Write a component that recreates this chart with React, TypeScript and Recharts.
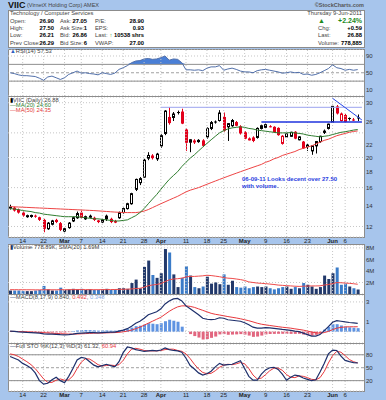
import React from "react";
import {
  ComposedChart, Bar, Line, Area, XAxis, YAxis,
  CartesianGrid, ReferenceLine, Cell,
} from "recharts";

// daily bars, Feb 9 -> Jun 9 2011
const dates = [
  "Feb 9", "Feb 10", "Feb 11", "Feb 14", "Feb 15", "Feb 16", "Feb 17", "Feb 18", "Feb 22", "Feb 23", "Feb 24", "Feb 25", "Feb 28",
  "Mar 1", "Mar 2", "Mar 3", "Mar 4", "Mar 7", "Mar 8", "Mar 9", "Mar 10", "Mar 11", "Mar 14", "Mar 15", "Mar 16", "Mar 17", "Mar 18",
  "Mar 21", "Mar 22", "Mar 23", "Mar 24", "Mar 25", "Mar 28", "Mar 29", "Mar 30", "Mar 31",
  "Apr 1", "Apr 4", "Apr 5", "Apr 6", "Apr 7", "Apr 8", "Apr 11", "Apr 12", "Apr 13", "Apr 14", "Apr 15", "Apr 18", "Apr 19", "Apr 20",
  "Apr 21", "Apr 25", "Apr 26", "Apr 27", "Apr 28", "Apr 29",
  "May 2", "May 3", "May 4", "May 5", "May 6", "May 9", "May 10", "May 11", "May 12", "May 13", "May 16", "May 17", "May 18", "May 19",
  "May 20", "May 23", "May 24", "May 25", "May 26", "May 27", "May 31",
  "Jun 1", "Jun 2", "Jun 3", "Jun 6", "Jun 7", "Jun 8", "Jun 9",
];
const FUTURE = "Jun 10";

const opens = [
  13.9, 13.8, 13.6, 13.3, 12.9, 12.95, 13.0, 12.85, 12.6, 11.8, 12.2, 12.6, 12.3,
  11.6, 11.9, 12.5, 12.8, 13.3, 12.7, 12.9, 12.8, 12.55, 12.4, 13.0, 12.7, 12.5, 12.8,
  13.3, 13.7, 14.2, 15.8, 16.6, 17.3, 19.9, 20.3, 19.8,
  21.8, 23.9, 27.0, 26.9, 28.0, 28.1, 24.6, 22.4, 22.5, 22.5, 22.7, 23.3, 24.8, 26.1,
  26.3, 27.0, 25.1, 25.3, 26.0, 25.2,
  24.1, 22.9, 23.2, 23.2, 24.8, 25.0, 25.2, 25.1, 24.9, 22.2, 23.3, 23.4, 24.2, 22.8,
  22.5, 22.0, 21.0, 21.8, 22.5, 24.4, 24.8,
  26.0, 29.2, 26.3, 27.4, 26.8, 26.5, 26.9,
];
const highs = [
  14.1, 13.9, 13.7, 13.4, 13.1, 13.1, 13.1, 12.9, 12.7, 12.4, 12.6, 12.7, 12.4,
  11.9, 12.4, 12.9, 13.4, 13.5, 13.0, 13.1, 12.9, 12.6, 12.7, 13.1, 12.8, 12.6, 13.4,
  13.8, 14.3, 15.4, 17.1, 17.3, 19.8, 20.8, 20.5, 20.7,
  23.8, 28.4, 29.0, 28.0, 28.3, 28.7, 24.8, 22.9, 22.9, 22.9, 22.9, 25.0, 26.2, 26.3,
  28.4, 27.9, 25.8, 26.6, 26.2, 25.4,
  24.3, 23.2, 23.4, 25.0, 25.5, 25.7, 25.4, 25.2, 25.0, 23.6, 23.9, 24.2, 24.3, 23.4,
  22.6, 22.1, 21.9, 22.6, 23.5, 24.6, 25.7,
  29.3, 29.5, 27.9, 27.6, 26.9, 26.8, 27.5,
];
const lows = [
  13.6, 13.4, 13.2, 12.9, 12.8, 12.8, 12.8, 12.5, 11.5, 11.7, 12.1, 12.3, 11.6,
  11.5, 11.8, 12.4, 12.7, 12.7, 12.6, 12.8, 12.5, 12.3, 12.3, 12.5, 12.3, 12.3, 12.7,
  13.2, 13.6, 14.1, 15.6, 16.3, 17.2, 19.6, 19.7, 19.5,
  21.5, 23.6, 25.5, 26.2, 27.5, 25.6, 21.0, 20.8, 22.1, 22.3, 21.6, 23.0, 24.5, 25.7,
  26.1, 24.2, 22.6, 25.1, 25.2, 23.7,
  22.9, 22.7, 22.4, 23.0, 24.6, 24.9, 25.0, 24.0, 23.5, 22.0, 23.1, 23.3, 22.9, 22.7,
  21.3, 21.0, 20.4, 20.6, 22.3, 23.8, 24.6,
  25.9, 27.5, 26.1, 25.9, 26.3, 26.2, 26.21,
];
const closes = [
  13.7, 13.5, 13.3, 13.0, 13.0, 13.02, 12.9, 12.6, 11.8, 12.3, 12.5, 12.4, 11.7,
  11.8, 12.3, 12.8, 13.2, 12.8, 12.9, 12.95, 12.6, 12.4, 12.6, 12.65, 12.4, 12.35, 13.3,
  13.7, 14.2, 15.3, 17.0, 17.1, 19.6, 20.3, 19.9, 20.5,
  23.5, 28.2, 25.8, 27.6, 27.8, 25.7, 22.3, 22.8, 22.6, 22.7, 21.8, 24.8, 25.9, 26.0,
  27.8, 24.4, 25.7, 26.3, 25.3, 23.9,
  23.0, 22.95, 22.6, 24.8, 25.3, 25.5, 25.1, 24.1, 23.6, 23.4, 23.8, 24.1, 23.0, 23.3,
  21.4, 21.6, 21.8, 22.5, 23.4, 24.0, 25.6,
  29.2, 27.7, 27.6, 26.0, 26.7, 26.29, 26.88,
];
const ma20 = [
  13.7, 13.65, 13.6, 13.5, 13.45, 13.4, 13.3, 13.25, 13.15, 13.1, 13.05, 13.0, 12.95,
  12.9, 12.9, 12.9, 12.9, 12.85, 12.8, 12.75, 12.7, 12.7, 12.65, 12.6, 12.55, 12.5, 12.5,
  12.55, 12.6, 12.8, 13.0, 13.3, 13.7, 14.2, 14.7, 15.2,
  15.8, 16.4, 17.0, 17.5, 18.0, 18.7, 19.3, 19.9, 20.4, 21.0, 21.6, 22.2, 22.8, 23.4,
  24.0, 24.4, 24.7, 24.9, 25.0, 25.1,
  25.0, 24.8, 24.7, 24.5, 24.4, 24.3, 24.2, 24.1, 24.0, 24.0, 24.0, 24.05, 24.0, 23.9,
  23.8, 23.6, 23.5, 23.4, 23.3, 23.4, 23.5,
  23.7, 23.9, 24.1, 24.2, 24.35, 24.5, 24.6,
];
const ma50 = [
  13.9, 13.88, 13.86, 13.84, 13.82, 13.8, 13.78, 13.76, 13.74, 13.72, 13.7, 13.68, 13.66,
  13.64, 13.62, 13.6, 13.58, 13.56, 13.54, 13.52, 13.5, 13.47, 13.44, 13.41, 13.38, 13.35, 13.33,
  13.31, 13.3, 13.3, 13.3, 13.35, 13.45, 13.6, 13.8, 14.0,
  14.2, 14.4, 14.6, 14.8, 15.0, 15.25, 15.5, 15.7, 15.85, 16.0, 16.2, 16.4, 16.6, 16.8,
  17.0, 17.2, 17.4, 17.6, 17.8, 18.0,
  18.2, 18.4, 18.6, 18.8, 19.0, 19.3, 19.5, 19.8, 20.0, 20.3, 20.5, 20.7, 20.9, 21.2,
  21.4, 21.6, 21.8, 22.1, 22.4, 22.7, 22.9,
  23.2, 23.5, 23.7, 23.9, 24.1, 24.25, 24.35,
];
// volume in millions of shares
const volume = [
  0.6, 0.6, 0.6, 0.5, 0.5, 0.5, 0.6, 0.7, 1.4, 0.8, 0.6, 0.6, 1.1,
  0.7, 0.8, 0.9, 0.8, 0.9, 0.7, 0.8, 0.7, 0.7, 0.8, 0.9, 0.7, 0.8, 1.0,
  1.0, 0.9, 1.9, 2.5, 1.0, 4.7, 5.8, 3.3, 2.8,
  3.6, 7.8, 7.2, 3.4, 1.2, 2.8, 4.8, 3.2, 1.2, 1.0, 1.3, 3.0, 1.8, 2.0,
  1.7, 3.4, 1.6, 2.3, 1.2, 1.1,
  1.3, 1.0, 1.2, 1.3, 1.2, 1.3, 1.0, 0.8, 1.0, 1.2, 1.3, 0.9, 1.2, 1.0,
  1.9, 1.6, 1.3, 0.9, 1.2, 3.2, 2.6,
  3.6, 4.6, 1.6, 1.8, 1.3, 1.0, 0.78,
];
const volumeSma20 = [
  0.75, 0.75, 0.74, 0.74, 0.73, 0.73, 0.72, 0.72, 0.74, 0.74, 0.73, 0.73, 0.75,
  0.75, 0.75, 0.76, 0.76, 0.77, 0.76, 0.76, 0.75, 0.75, 0.76, 0.77, 0.77, 0.78, 0.8,
  0.82, 0.83, 0.88, 0.95, 0.98, 1.18, 1.43, 1.56, 1.66,
  1.8, 2.15, 2.45, 2.6, 2.65, 2.75, 2.95, 3.05, 3.05, 3.1, 3.15, 3.25, 3.2, 3.1,
  3.0, 2.85, 2.75, 2.7, 2.6, 2.5,
  2.35, 2.1, 2.0, 1.9, 1.85, 1.8, 1.72, 1.65, 1.55, 1.5, 1.45, 1.4, 1.35, 1.32,
  1.35, 1.38, 1.4, 1.4, 1.42, 1.55, 1.65,
  1.8, 1.98, 1.95, 1.9, 1.85, 1.78, 1.69,
];
const rsi14 = [
  50, 48, 45, 43, 43, 42, 41, 37, 32, 40, 42, 38, 34,
  38, 46, 50, 54, 49, 50, 48, 47, 45, 50, 48, 46, 49, 58,
  62, 67, 74, 78, 79, 83, 84, 82, 83,
  86, 90, 80, 83, 82, 74, 57, 57, 56, 57, 55, 61, 64, 64,
  67, 56, 59, 61, 58, 54,
  52, 52, 50, 55, 57, 58, 56, 54, 52, 49, 50, 52, 50, 51,
  46, 47, 44, 46, 50, 55, 60,
  69, 62, 60, 56, 58, 56, 57.53,
];
const macdLine = [
  0.05, 0.02, -0.02, -0.05, -0.08, -0.1, -0.12, -0.15, -0.22, -0.25, -0.25, -0.27, -0.3,
  -0.32, -0.3, -0.25, -0.18, -0.15, -0.12, -0.1, -0.1, -0.12, -0.1, -0.08, -0.06, -0.05, 0.05,
  0.15, 0.3, 0.55, 0.85, 1.05, 1.35, 1.7, 1.85, 2.0,
  2.3, 2.8, 3.1, 3.3, 3.35, 3.1, 2.6, 2.3, 2.0, 1.7, 1.35, 1.25, 1.22, 1.25,
  1.4, 1.35, 1.2, 1.15, 1.1, 1.05,
  0.9, 0.7, 0.45, 0.35, 0.35, 0.4, 0.38, 0.33, 0.28, 0.22, 0.18, 0.12, 0.05, 0.0,
  -0.15, -0.3, -0.45, -0.45, -0.3, 0.1, 0.5,
  0.95, 1.1, 1.05, 0.98, 0.92, 0.88, 0.84,
];
const macdSignal = [
  0.02, 0.02, 0.01, 0.0, -0.02, -0.04, -0.06, -0.08, -0.11, -0.14, -0.16, -0.19, -0.21,
  -0.23, -0.25, -0.25, -0.24, -0.22, -0.2, -0.18, -0.16, -0.15, -0.14, -0.13, -0.11, -0.1, -0.07,
  -0.02, 0.05, 0.15, 0.3, 0.45, 0.65, 0.85, 1.05, 1.25,
  1.45, 1.75, 2.05, 2.3, 2.5, 2.6, 2.6, 2.55, 2.45, 2.3, 2.15, 2.0, 1.85, 1.75,
  1.68, 1.6, 1.52, 1.45, 1.38, 1.3,
  1.2, 1.1, 0.98, 0.85, 0.75, 0.68, 0.62, 0.56, 0.5, 0.44, 0.4, 0.35, 0.28, 0.22,
  0.15, 0.06, -0.04, -0.12, -0.16, -0.1, 0.02,
  0.2, 0.35, 0.43, 0.47, 0.49, 0.49, 0.492,
];
const macdHist = [
  0.03, 0.0, -0.03, -0.05, -0.06, -0.06, -0.06, -0.07, -0.11, -0.11, -0.09, -0.08, -0.09,
  -0.09, -0.05, 0.05, 0.12, 0.15, 0.16, 0.15, 0.13, 0.1, 0.12, 0.12, 0.1, 0.1, 0.14,
  0.17, 0.25, 0.4, 0.55, 0.6, 0.7, 0.85, 0.8, 0.75,
  0.85, 1.05, 1.2, 1.1, 1.0, 0.5, 0.0, -0.25, -0.45, -0.6, -0.8, -0.75, -0.63, -0.5,
  -0.28, -0.25, -0.32, -0.3, -0.28, -0.25,
  -0.3, -0.4, -0.53, -0.5, -0.4, -0.28, -0.24, -0.23, -0.22, -0.22, -0.22, -0.23, -0.23, -0.22,
  -0.3, -0.36, -0.41, -0.33, -0.14, 0.2, 0.48,
  0.75, 0.75, 0.62, 0.51, 0.43, 0.39, 0.348,
];
const stoK = [
  76, 72, 68, 60, 55, 49, 38, 20, 12, 14, 22, 28, 20,
  15, 30, 48, 68, 74, 72, 64, 56, 52, 55, 58, 55, 52, 64,
  85, 98, 96, 92, 90, 88, 89, 90, 89,
  91, 96, 92, 90, 89, 86, 72, 55, 47, 38, 33, 36, 42, 52,
  60, 56, 57, 58, 62, 66,
  48, 30, 21, 21, 35, 45, 50, 51, 46, 35, 21, 28, 33, 31,
  26, 23, 20, 22, 40, 60, 82,
  91, 90, 77, 67, 64, 62, 61.32,
];
const stoD = [
  82, 80, 76, 70, 64, 57, 48, 36, 24, 16, 16, 21, 24,
  21, 22, 31, 48, 63, 71, 70, 64, 57, 54, 55, 56, 55, 57,
  67, 82, 93, 95, 93, 90, 89, 89, 89,
  90, 92, 93, 93, 90, 88, 82, 71, 58, 47, 39, 36, 37, 43,
  51, 56, 58, 57, 59, 62,
  59, 48, 33, 24, 26, 34, 43, 49, 49, 44, 34, 28, 27, 31,
  30, 27, 23, 22, 27, 41, 61,
  78, 88, 86, 78, 69, 64, 60.94,
];

const tickDates = ["Feb 14", "Feb 22", "Mar 1", "Mar 7", "Mar 14", "Mar 21", "Mar 28", "Apr 1", "Apr 11", "Apr 18", "Apr 25", "May 2", "May 9", "May 16", "May 23", "Jun 1", "Jun 6"];
const tickLabels = ["14", "22", "Mar", "7", "14", "21", "28", "Apr", "11", "18", "25", "May", "9", "16", "23", "Jun", "6"];
const priceTicks = [12, 14, 16, 18, 20, 22, 24, 26, 28, 30];

const FONT = "Arial, 'Liberation Sans', sans-serif";
const FRAME = "#a7c5ec";
const GRID = "#c6c6c6";
const AXIS_TEXT = "#333";
const NAVY = "#1d2f6b";
const SIG_RED = "#e8383d";
const W = 386;
const MARGIN = { top: 0, right: 0, left: 8, bottom: 0 };

const rows: any[] = dates.map((date, i) => ({
  date,
  open: opens[i], high: highs[i], low: lows[i], close: closes[i],
  prev: i > 0 ? closes[i - 1] : null,
  ma20: ma20[i], ma50: ma50[i],
  volume: volume[i], volSma: volumeSma20[i],
  rsi: rsi14[i],
  macd: macdLine[i], signal: macdSignal[i], hist: macdHist[i],
  k: stoK[i], d: stoD[i],
}));
rows.push({ date: FUTURE });

const Candle = (props: any) => {
  const { x, y, width, height, payload } = props;
  if (!payload || payload.high == null) return null;
  const { open, high, low, close, prev } = payload;
  const top = Math.min(y, y + height);
  const bot = Math.max(y, y + height);
  const span = Math.log(high) - Math.log(low);
  const py = (v: number) => (span > 0 ? top + ((bot - top) * (Math.log(high) - Math.log(v))) / span : top);
  const p = Math.floor(x + width / 2);
  const color = prev == null || close >= prev ? "#000" : "#e3001b";
  const hollow = close > open;
  const bTop = py(Math.max(open, close));
  const bBot = Math.max(py(Math.min(open, close)), bTop + 1);
  return (
    <g>
      <line x1={p + 0.5} x2={p + 0.5} y1={top} y2={bot} stroke={color} strokeWidth={1} />
      {hollow ? (
        <rect x={p - 0.5} y={bTop} width={2} height={Math.max(bBot - bTop, 1)} fill="#fff" stroke={color} strokeWidth={1} />
      ) : (
        <rect x={p - 1} y={bTop} width={3} height={bBot - bTop} fill={color} />
      )}
    </g>
  );
};

const DateTick = (p: any) => {
  const label = tickLabels[tickDates.indexOf(p.payload.value)];
  const month = /[A-Z]/.test(label || "");
  return (
    <text x={p.x} y={p.y + 5} textAnchor="middle" fontSize={6} fontWeight={month ? "bold" : "normal"} fill="#222" fontFamily={FONT}>
      {label}
    </text>
  );
};

const xAxis = (show: boolean) => (
  <XAxis
    dataKey="date"
    scale="band"
    hide={!show}
    ticks={tickDates}
    interval={0}
    tick={<DateTick />}
    tickLine={false}
    axisLine={false}
    tickSize={0}
    tickMargin={1}
    height={show ? 8 : 0}
  />
);

const yTick = { fontSize: 6, fill: AXIS_TEXT, fontFamily: FONT };

const vGrid = () =>
  tickDates.map((d) => <ReferenceLine key={d} x={d} stroke={GRID} strokeDasharray="1 2" />);

const Txt = ({ x, y, children, size = 5.8, color = "#444", bold = false, right = false }: any) => (
  <span
    style={{
      position: "absolute",
      top: y - size / 2 - 1,
      ...(right ? { right: W - x } : { left: x }),
      fontSize: size,
      lineHeight: `${size + 1}px`,
      color,
      fontWeight: bold ? "bold" : "normal",
      fontFamily: FONT,
      whiteSpace: "nowrap",
    }}
  >
    {children}
  </span>
);

const Panel = ({ top, height }: { top: number; height: number }) => (
  <div
    style={{
      position: "absolute", left: 8, top, width: 357, height,
      background: "#fff", border: "1px solid #8c8c8c", boxSizing: "border-box",
    }}
  />
);

const Abs = ({ top, children }: any) => (
  <div style={{ position: "absolute", left: 0, top }}>{children}</div>
);

const App = () => {
  return (
    <div style={{ position: "fixed", left: 0, top: 0, width: W, height: 400, background: FRAME, overflow: "hidden", fontFamily: FONT }}>
      {/* title + quote box */}
      <Txt x={8} y={5} size={9} color="#111" bold>VIIC</Txt>
      <Txt x={27} y={5.5} size={5.5} color="#444">(VirnetX Holding Corp) AMEX</Txt>
      <Txt x={364} y={5.5} size={5.5} color="#555" bold right>©StockCharts.com</Txt>
      <div style={{ position: "absolute", left: 8, top: 10, width: 357, height: 38, background: "#fff", border: "1px solid #8c8c8c", boxSizing: "border-box" }} />
      <Txt x={10} y={14}>Technology / Computer Services</Txt>
      <Txt x={362} y={14} right>Thursday  9-Jun-2011</Txt>

      <Txt x={10} y={21.5}>Open:</Txt>
      <Txt x={54} y={21.5} bold color="#000" right>26.90</Txt>
      <Txt x={60} y={21.5}>Ask:</Txt>
      <Txt x={87} y={21.5} bold color="#000" right>27.05</Txt>
      <Txt x={95} y={21.5}>P/E:</Txt>
      <Txt x={144} y={21.5} bold color="#000" right>28.90</Txt>

      <Txt x={10} y={29}>High:</Txt>
      <Txt x={54} y={29} bold color="#000" right>27.50</Txt>
      <Txt x={60} y={29}>Ask Size:</Txt>
      <Txt x={87} y={29} bold color="#000" right>1</Txt>
      <Txt x={95} y={29}>EPS:</Txt>
      <Txt x={144} y={29} bold color="#000" right>0.93</Txt>

      <Txt x={10} y={36}>Low:</Txt>
      <Txt x={54} y={36} bold color="#000" right>26.21</Txt>
      <Txt x={60} y={36}>Bid:</Txt>
      <Txt x={87} y={36} bold color="#000" right>26.86</Txt>
      <Txt x={95} y={36}>Last:</Txt>
      <Txt x={144} y={36} bold color="#000" right><span style={{ color: "#1d8a1d" }}>↑</span> 10538 shrs</Txt>

      <Txt x={10} y={43.5}>Prev Close:</Txt>
      <Txt x={54} y={43.5} bold color="#000" right>26.29</Txt>
      <Txt x={60} y={43.5}>Bid Size:</Txt>
      <Txt x={87} y={43.5} bold color="#000" right>6</Txt>
      <Txt x={95} y={43.5}>VWAP:</Txt>
      <Txt x={144} y={43.5} bold color="#000" right>27.00</Txt>

      <Txt x={318} y={21.5} size={7} color="#1d8a1d">▲</Txt>
      <Txt x={362} y={21.5} size={7} color="#1d8a1d" bold right>+2.24%</Txt>
      <Txt x={318} y={29}>Chg:</Txt>
      <Txt x={362} y={29} bold color="#000" right>+0.59</Txt>
      <Txt x={318} y={36}>Last:</Txt>
      <Txt x={362} y={36} bold color="#000" right>26.88</Txt>
      <Txt x={318} y={43.5}>Volume:</Txt>
      <Txt x={362} y={43.5} bold color="#000" right>778,885</Txt>

      {/* white panels */}
      <Panel top={49} height={48} />
      <Panel top={96} height={142} />
      <Panel top={244} height={51} />
      <Panel top={294} height={50} />
      <Panel top={343} height={49} />

      {/* RSI */}
      <Abs top={49}>
        <ComposedChart width={W} height={47} data={rows} margin={MARGIN}>
          <CartesianGrid vertical={false} stroke={GRID} strokeDasharray="1 2" />
          {vGrid()}
          {xAxis(false)}
          <YAxis orientation="right" width={22} domain={[-5.5, 106.7]} ticks={[10, 30, 50, 70, 90]} allowDataOverflow tick={yTick} tickLine={false} axisLine={false} tickSize={0} tickMargin={2} />
          <ReferenceLine y={70} stroke="#8f8f8f" />
          <ReferenceLine y={30} stroke="#8f8f8f" />
          <ReferenceLine y={50} stroke="#a0a0a0" strokeDasharray="3 2" />
          <Area dataKey={(r: any) => (r.rsi == null ? null : [70, Math.max(70, r.rsi)])} type="linear" stroke="none" fill="#4a7fd6" fillOpacity={1} isAnimationActive={false} />
          <Line dataKey="rsi" type="linear" stroke="#5270aa" strokeWidth={1} dot={false} isAnimationActive={false} />
        </ComposedChart>
      </Abs>
      <Txt x={10} y={51.5}><span style={{ color: "#2f5fc4" }}>▲</span>RSI(14) 57.53</Txt>

      {/* price */}
      <Abs top={97}>
        <ComposedChart width={W} height={148} data={rows} margin={MARGIN}>
          <CartesianGrid vertical={false} stroke={GRID} strokeDasharray="1 2" />
          {vGrid()}
          {xAxis(true)}
          <YAxis orientation="right" width={22} scale="log" domain={[11.1, 31.3]} allowDataOverflow ticks={priceTicks} tick={yTick} tickLine={false} axisLine={false} tickSize={0} tickMargin={2} />
          <ReferenceLine segment={[{ x: "Apr 1", y: 29.0 }, { x: FUTURE, y: 29.0 }]} stroke="#9ca3ef" strokeWidth={1} />
          <ReferenceLine segment={[{ x: "May 6", y: 26.0 }, { x: FUTURE, y: 26.0 }]} stroke="#1f33de" strokeWidth={1.5} />
          <ReferenceLine segment={[{ x: "Jun 1", y: 31.0 }, { x: FUTURE, y: 26.4 }]} stroke="#2646e6" strokeWidth={1} ifOverflow="visible" />
          <Line dataKey="ma50" type="linear" stroke="#ee4444" strokeWidth={1} dot={false} isAnimationActive={false} />
          <Line dataKey="ma20" type="linear" stroke="#2f7d2f" strokeWidth={1} dot={false} isAnimationActive={false} />
          <Bar dataKey={(r: any) => (r.low == null ? null : [r.low, r.high])} barSize={3} shape={<Candle />} isAnimationActive={false} />
        </ComposedChart>
      </Abs>
      <Txt x={10} y={100.5}><span style={{ color: "#000" }}>▮</span>VIIC (Daily) 26.88</Txt>
      <Txt x={10} y={105.7} color="#2f7d2f">—MA(20) 24.60</Txt>
      <Txt x={10} y={111} color="#e43a3a">—MA(50) 24.35</Txt>
      <Txt x={242} y={179.5} size={6} color="#2a3ee0" bold>06-09-11 Looks decent over 27.50</Txt>
      <Txt x={242} y={187} size={6} color="#2a3ee0" bold>with volume.</Txt>

      {/* volume */}
      <Abs top={245}>
        <ComposedChart width={W} height={49} data={rows} margin={MARGIN}>
          <CartesianGrid vertical={false} stroke={GRID} strokeDasharray="1 2" />
          {vGrid()}
          {xAxis(false)}
          <YAxis orientation="right" width={22} domain={[0, 8.5]} ticks={[2, 4, 6, 8]} tickFormatter={(v: number) => `${v}M`} tick={yTick} tickLine={false} axisLine={false} tickSize={0} tickMargin={2} />
          <Bar dataKey="volume" barSize={3} isAnimationActive={false}>
            {rows.map((r, i) => (
              <Cell key={i} fill={r.prev == null || r.close >= r.prev ? "#22396b" : "#3a7bc8"} />
            ))}
          </Bar>
          <Line dataKey="volSma" type="linear" stroke="#ee4b4b" strokeWidth={1} dot={false} isAnimationActive={false} />
        </ComposedChart>
      </Abs>
      <Txt x={10} y={247.5}><span style={{ color: "#22396b" }}>▮</span>Volume 778.89K, SMA(20) 1.69M</Txt>

      {/* MACD */}
      <Abs top={295}>
        <ComposedChart width={W} height={48} data={rows} margin={MARGIN}>
          <CartesianGrid vertical={false} stroke={GRID} strokeDasharray="1 2" />
          {vGrid()}
          {xAxis(false)}
          <YAxis orientation="right" width={22} domain={[-1.15, 3.7]} ticks={[-1, 0, 1, 2, 3]} allowDataOverflow tick={yTick} tickLine={false} axisLine={false} tickSize={0} tickMargin={2} />
          <Bar dataKey="hist" barSize={3} isAnimationActive={false}>
            {rows.map((r, i) => (
              <Cell key={i} fill={(r.hist ?? 0) >= 0 ? "#5e93e2" : "#e2667f"} />
            ))}
          </Bar>
          <Line dataKey="signal" type="linear" stroke={SIG_RED} strokeWidth={1} dot={false} isAnimationActive={false} />
          <Line dataKey="macd" type="linear" stroke={NAVY} strokeWidth={1.2} dot={false} isAnimationActive={false} />
        </ComposedChart>
      </Abs>
      <Txt x={10} y={297.5}>
        <span style={{ color: NAVY }}>—</span>MACD(8,17,9) 0.840, <span style={{ color: SIG_RED }}>0.492</span>, <span style={{ color: "#7fa6e6" }}>0.348</span>
      </Txt>

      {/* Full stochastics */}
      <Abs top={344}>
        <ComposedChart width={W} height={55} data={rows} margin={MARGIN}>
          <CartesianGrid vertical={false} stroke={GRID} strokeDasharray="1 2" />
          {vGrid()}
          {xAxis(true)}
          <YAxis orientation="right" width={22} domain={[-4, 105]} ticks={[20, 50, 80]} allowDataOverflow tick={yTick} tickLine={false} axisLine={false} tickSize={0} tickMargin={2} />
          <ReferenceLine y={80} stroke="#8f8f8f" />
          <ReferenceLine y={20} stroke="#8f8f8f" />
          <ReferenceLine y={50} stroke="#a0a0a0" strokeDasharray="3 2" />
          <Line dataKey="d" type="linear" stroke={SIG_RED} strokeWidth={1} dot={false} isAnimationActive={false} />
          <Line dataKey="k" type="linear" stroke={NAVY} strokeWidth={1.2} dot={false} isAnimationActive={false} />
        </ComposedChart>
      </Abs>
      <Txt x={10} y={347}>
        <span style={{ color: NAVY }}>—</span>Full STO %K(12,3) %D(3) 61.32, <span style={{ color: SIG_RED }}>60.94</span>
      </Txt>
    </div>
  );
};

export default App;
